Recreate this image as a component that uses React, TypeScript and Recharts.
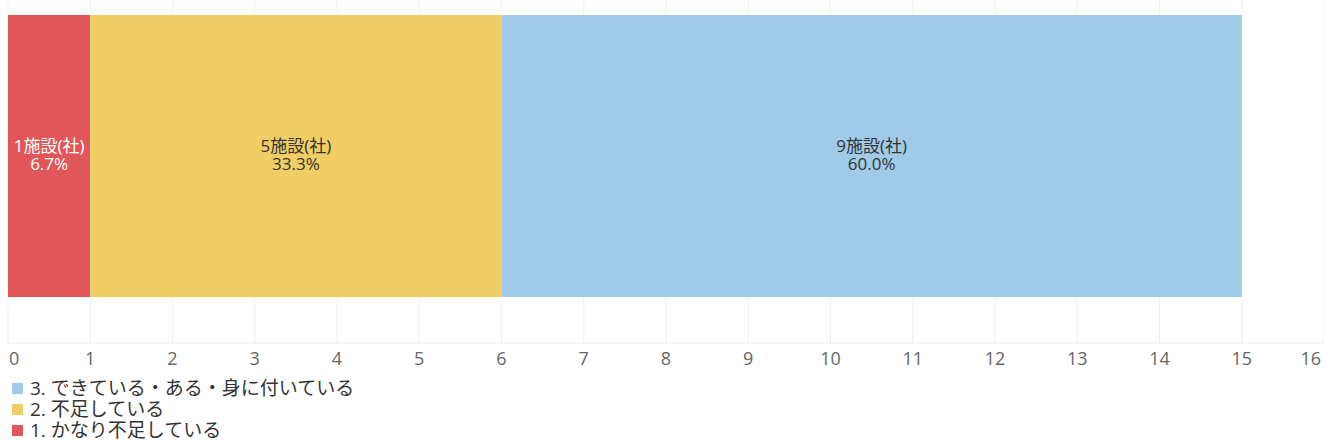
import { BarChart, Bar, XAxis, YAxis, CartesianGrid, LabelList } from "recharts";

const CATEGORIES = ["回答"];
const SERIES_KEYS = ["s1", "s2", "s3"];
const SERIES_NAMES = ["1. かなり不足している", "2. 不足している", "3. できている・ある・身に付いている"];
const SERIES_COLORS = ["#e15759", "#f1ce63", "#a0cbe8"];
const LABEL_COLORS = ["#ffffff", "#333333", "#333333"];
const VALUES = [1, 5, 9];
const X_TICKS = [0, 1, 2, 3, 4, 5, 6, 7, 8, 9, 10, 11, 12, 13, 14, 15, 16];

const total = VALUES.reduce((s, v) => s + v, 0);

const data = CATEGORIES.map((name) => {
  const row: Record<string, string | number> = { name };
  SERIES_KEYS.forEach((k, i) => {
    row[k] = VALUES[i];
  });
  return row;
});

const FONT = '"Open Sans", "Noto Sans CJK JP", sans-serif';

function makeLabel(i: number) {
  return (props: any) => {
    const { x, y, width, height, value } = props;
    const cx = x + width / 2;
    const cy = y + height / 2;
    const pct = ((value / total) * 100).toFixed(1) + "%";
    return (
      <g>
        <text x={cx} y={cy - 4} textAnchor="middle" fill={LABEL_COLORS[i]} fontSize={17} fontFamily={FONT}>
          {value}施設(社)
        </text>
        <text x={cx} y={cy + 14} textAnchor="middle" fill={LABEL_COLORS[i]} fontSize={17} fontFamily={FONT}>
          {pct}
        </text>
      </g>
    );
  };
}

const AxisTick = (props: any) => {
  const { x, y, payload } = props;
  const v = payload.value;
  let anchor: "start" | "middle" | "end" = "middle";
  let dx = 0;
  if (v === X_TICKS[0]) {
    anchor = "start";
    dx = 1;
  } else if (v === X_TICKS[X_TICKS.length - 1]) {
    anchor = "end";
    dx = -3;
  }
  return (
    <text x={x + dx} y={y + 14} textAnchor={anchor} fill="#666" fontSize={18} fontFamily={FONT}>
      {v}
    </text>
  );
};

export default function App() {
  const legendOrder = [2, 1, 0];
  return (
    <div style={{ position: "absolute", left: 0, top: 0, width: 1324, height: 443, background: "#fff", overflow: "hidden" }}>
      <BarChart
        width={1324}
        height={443}
        data={data}
        layout="vertical"
        margin={{ top: 0, right: 0, bottom: 63, left: 8 }}
        barCategoryGap={0}
      >
        <CartesianGrid horizontal={false} stroke="#eeeeee" />
        <XAxis
          type="number"
          domain={[0, 16]}
          ticks={X_TICKS}
          interval={0}
          height={37}
          axisLine={{ stroke: "#eeeeee" }}
          tickLine={false}
          tick={<AxisTick />}
        />
        <YAxis type="category" dataKey="name" hide padding={{ top: 15, bottom: 46 }} />
        {SERIES_KEYS.map((k, i) => (
          <Bar key={k} dataKey={k} name={SERIES_NAMES[i]} stackId="a" fill={SERIES_COLORS[i]} isAnimationActive={false}>
            <LabelList dataKey={k} content={makeLabel(i)} />
          </Bar>
        ))}
      </BarChart>
      <div style={{ position: "absolute", left: 12, top: 378, fontFamily: FONT, fontSize: 19, color: "#333", lineHeight: "21px" }}>
        {legendOrder.map((i) => (
          <div key={i} style={{ display: "flex", alignItems: "center", height: 21 }}>
            <span style={{ display: "inline-block", width: 11, height: 11, background: SERIES_COLORS[i], marginRight: 7 }} />
            <span>{SERIES_NAMES[i]}</span>
          </div>
        ))}
      </div>
    </div>
  );
}
